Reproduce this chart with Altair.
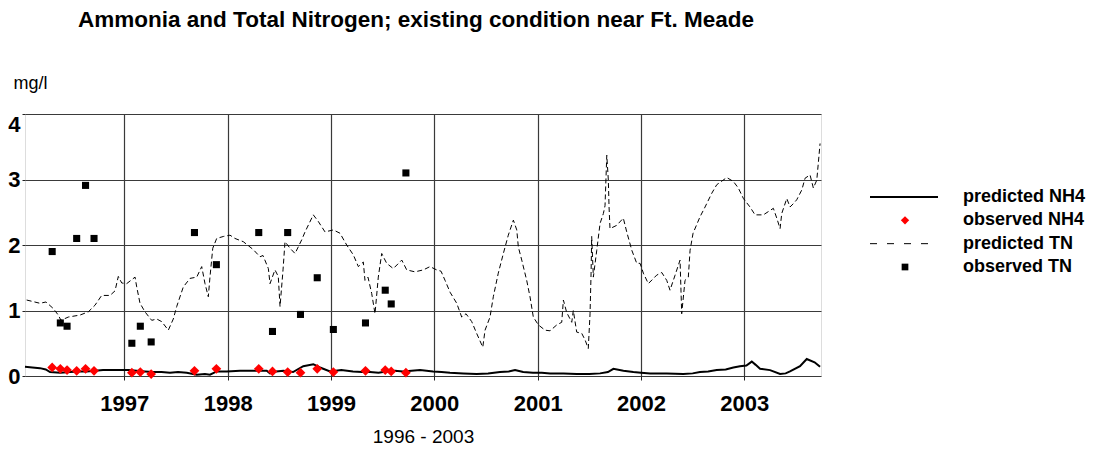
import altair as alt
import pandas as pd

# ---------------- data (decimal years, mg/l) ----------------
tn_pred_year = [1996.055, 1996.184, 1996.242, 1996.313, 1996.361, 1996.387, 1996.458, 1996.571,
                1996.652, 1996.716, 1996.781, 1996.862, 1996.910, 1996.942, 1996.975, 1997.023,
                1997.104, 1997.120, 1997.152, 1997.200, 1997.265, 1997.314, 1997.362, 1997.426,
                1997.474, 1997.507, 1997.571, 1997.636, 1997.701, 1997.749, 1997.781, 1997.813,
                1997.829, 1997.856, 1997.894, 1997.958, 1998.023, 1998.071, 1998.152, 1998.248,
                1998.313, 1998.342, 1998.394, 1998.410, 1998.458, 1998.490, 1998.507, 1998.536,
                1998.555, 1998.604, 1998.652, 1998.717, 1998.749, 1998.829, 1998.877, 1998.942,
                1999.023, 1999.087, 1999.152, 1999.216, 1999.265, 1999.313, 1999.329, 1999.358,
                1999.394, 1999.426, 1999.458, 1999.491, 1999.539, 1999.603, 1999.685, 1999.733,
                1999.813, 1999.894, 1999.958, 2000.023, 2000.065, 2000.104, 2000.152, 2000.217,
                2000.265, 2000.307, 2000.362, 2000.410, 2000.469, 2000.491, 2000.539, 2000.571,
                2000.619, 2000.668, 2000.716, 2000.765, 2000.798, 2000.813, 2000.846, 2000.894,
                2000.926, 2000.958, 2001.007, 2001.071, 2001.120, 2001.185, 2001.233, 2001.249,
                2001.281, 2001.330, 2001.345, 2001.378, 2001.427, 2001.459, 2001.490, 2001.507,
                2001.517, 2001.523, 2001.539, 2001.572, 2001.604, 2001.636, 2001.652, 2001.669,
                2001.684, 2001.691, 2001.700, 2001.765, 2001.829, 2001.862, 2001.911, 2001.959,
                2001.991, 2002.023, 2002.071, 2002.152, 2002.201, 2002.249, 2002.281, 2002.330,
                2002.378, 2002.394, 2002.426, 2002.458, 2002.475, 2002.504, 2002.571, 2002.620,
                2002.685, 2002.733, 2002.830, 2002.894, 2002.942, 2002.991, 2003.055, 2003.104,
                2003.184, 2003.281, 2003.314, 2003.346, 2003.362, 2003.411, 2003.442, 2003.474,
                2003.507, 2003.556, 2003.588, 2003.636, 2003.668, 2003.701, 2003.716, 2003.733]
tn_pred_value = [1.16, 1.11, 1.13, 1.03, 0.93, 0.85, 0.90, 0.93,
                 0.98, 1.08, 1.23, 1.23, 1.30, 1.52, 1.42, 1.41,
                 1.51, 1.36, 1.11, 0.98, 0.85, 0.87, 0.83, 0.70,
                 0.87, 1.06, 1.36, 1.49, 1.51, 1.67, 1.41, 1.21,
                 1.51, 1.95, 2.10, 2.13, 2.15, 2.10, 2.05, 1.93,
                 1.82, 1.84, 1.64, 1.41, 1.62, 1.52, 1.06, 1.62,
                 2.05, 1.95, 1.87, 2.08, 2.20, 2.46, 2.36, 2.20,
                 2.23, 2.18, 2.00, 1.85, 1.67, 1.74, 1.46, 1.51,
                 1.26, 0.95, 1.51, 1.87, 1.72, 1.64, 1.77, 1.62,
                 1.59, 1.62, 1.67, 1.62, 1.60, 1.46, 1.28, 1.11,
                 0.90, 0.95, 0.83, 0.65, 0.44, 0.70, 0.90, 1.21,
                 1.57, 1.87, 2.15, 2.38, 2.23, 1.97, 1.77, 1.46,
                 1.21, 0.90, 0.78, 0.70, 0.69, 0.78, 0.82, 1.16,
                 0.97, 0.82, 1.00, 0.67, 0.65, 0.55, 0.42, 0.95,
                 1.57, 2.13, 1.51, 1.92, 2.33, 2.48, 2.60, 3.37,
                 2.99, 2.58, 2.25, 2.30, 2.41, 2.20, 1.92, 1.72,
                 1.72, 1.57, 1.41, 1.54, 1.58, 1.46, 1.31, 1.54,
                 1.77, 0.95, 1.46, 1.51, 1.92, 2.18, 2.43, 2.58,
                 2.79, 2.92, 3.03, 2.97, 2.87, 2.71, 2.58, 2.46,
                 2.46, 2.56, 2.41, 2.25, 2.48, 2.71, 2.58, 2.63,
                 2.69, 2.84, 3.02, 3.07, 2.87, 2.99, 3.25, 3.55]

nh4_pred_year = [1996.039, 1996.110, 1996.184, 1996.240, 1996.281, 1996.380, 1996.474, 1996.560,
                 1996.636, 1996.720, 1996.794, 1996.880, 1996.958, 1997.040, 1997.120, 1997.200,
                 1997.278, 1997.360, 1997.442, 1997.520, 1997.604, 1997.701, 1997.780, 1997.829,
                 1997.894, 1997.991, 1998.120, 1998.248, 1998.378, 1998.410, 1998.470, 1998.539,
                 1998.633, 1998.732, 1998.829, 1998.894, 1998.991, 1999.100, 1999.213, 1999.300,
                 1999.378, 1999.460, 1999.533, 1999.620, 1999.697, 1999.780, 1999.862, 1999.988,
                 2000.070, 2000.152, 2000.280, 2000.410, 2000.520, 2000.636, 2000.720, 2000.781,
                 2000.860, 2000.955, 2001.040, 2001.120, 2001.250, 2001.378, 2001.500, 2001.604,
                 2001.680, 2001.733, 2001.830, 2001.926, 2002.000, 2002.088, 2002.250, 2002.410,
                 2002.500, 2002.571, 2002.650, 2002.733, 2002.820, 2002.894, 2002.958, 2003.020,
                 2003.072, 2003.110, 2003.152, 2003.249, 2003.346, 2003.400, 2003.442, 2003.539,
                 2003.604, 2003.680, 2003.733]
nh4_pred_value = [0.14, 0.13, 0.12, 0.10, 0.06, 0.05, 0.06, 0.07,
                  0.07, 0.08, 0.09, 0.09, 0.09, 0.09, 0.08, 0.07,
                  0.06, 0.06, 0.05, 0.06, 0.05, 0.02, 0.03, 0.02,
                  0.07, 0.07, 0.08, 0.08, 0.08, 0.04, 0.07, 0.08,
                  0.06, 0.15, 0.18, 0.13, 0.07, 0.09, 0.07, 0.06,
                  0.06, 0.05, 0.07, 0.08, 0.07, 0.08, 0.09, 0.07,
                  0.06, 0.05, 0.04, 0.03, 0.04, 0.06, 0.07, 0.09,
                  0.06, 0.05, 0.05, 0.04, 0.04, 0.03, 0.03, 0.04,
                  0.06, 0.11, 0.08, 0.06, 0.05, 0.04, 0.04, 0.03,
                  0.04, 0.06, 0.07, 0.09, 0.10, 0.13, 0.15, 0.16,
                  0.22, 0.17, 0.11, 0.09, 0.03, 0.04, 0.07, 0.15,
                  0.26, 0.21, 0.14]

obs_year = [1996.302, 1996.381, 1996.446, 1996.539, 1996.625, 1996.707, 1997.073, 1997.155,
            1997.260, 1997.679, 1997.891, 1998.301, 1998.434, 1998.581, 1998.705, 1998.867,
            1999.023, 1999.334, 1999.525, 1999.583, 1999.725]
obs_nh4 = [0.13, 0.11, 0.09, 0.08, 0.11, 0.08, 0.05, 0.06,
           0.03, 0.08, 0.11, 0.11, 0.07, 0.06, 0.05, 0.11,
           0.06, 0.08, 0.09, 0.07, 0.05]
obs_tn = [1.90, 0.81, 0.76, 2.10, 2.91, 2.10, 0.50, 0.76,
          0.52, 2.19, 1.70, 2.19, 0.68, 2.19, 0.94, 1.50,
          0.71, 0.81, 1.31, 1.10, 3.10]

year_ticks = [1997, 1998, 1999, 2000, 2001, 2002, 2003]
y_ticks = [0, 0.5, 1, 1.5, 2, 2.5, 3, 3.5, 4]
legend_labels = ["predicted NH4", "observed NH4", "predicted TN", "observed TN"]

FONT = "Liberation Sans"

df_tn = pd.DataFrame({"year": tn_pred_year, "value": tn_pred_value})
df_nh4 = pd.DataFrame({"year": nh4_pred_year, "value": nh4_pred_value})
df_onh4 = pd.DataFrame({"year": obs_year, "value": obs_nh4})
df_otn = pd.DataFrame({"year": obs_year, "value": obs_tn})
df_leg = pd.DataFrame({"label": legend_labels})

x_enc = alt.X(
    "year:Q",
    scale=alt.Scale(domain=[1996.039, 2003.742], nice=False, zero=False),
    axis=alt.Axis(
        values=year_ticks, format="d", grid=True, gridColor="#3a3a3a", gridWidth=1.2,
        tickColor="#222", tickSize=4, labelPadding=13, labelFont=FONT, labelFontSize=22,
        labelFontWeight="bold", labelColor="black", domain=False,
        title="1996 - 2003", titleFont=FONT, titleFontSize=19, titleFontWeight="normal",
        titleColor="black", titleX=398, titleY=66, titleAlign="center",
        titleBaseline="alphabetic",
    ),
)
y_enc = alt.Y(
    "value:Q",
    scale=alt.Scale(domain=[0, 4], nice=False, zero=True),
    axis=alt.Axis(
        values=y_ticks, format="d",
        labelExpr="datum.value % 1 === 0 ? datum.label : ''",
        grid=True, gridColor="#3a3a3a", gridWidth=1.2,
        gridOpacity={"condition": {"test": "datum.value % 1 !== 0", "value": 0}, "value": 1},
        labelBaseline={"condition": {"test": "datum.value === 4", "value": "top"}, "value": "middle"},
        tickColor="#222", tickSize=3, labelPadding=2, labelFont=FONT, labelFontSize=22,
        labelFontWeight="bold", labelColor="black", domain=False,
        title="mg/l", titleAngle=0, titleFont=FONT, titleFontSize=18, titleFontWeight="normal",
        titleColor="black", titleX=5, titleY=-26, titleAlign="center", titleBaseline="alphabetic",
    ),
)

tn_line = alt.Chart(df_tn).mark_line(color="black", strokeWidth=1, strokeDash=[5, 3]).encode(x=x_enc, y=y_enc)
nh4_line = alt.Chart(df_nh4).mark_line(color="black", strokeWidth=2).encode(x=x_enc, y=y_enc)
nh4_pts = alt.Chart(df_onh4).mark_point(shape="diamond", filled=True, color="red", size=95, opacity=1).encode(x=x_enc, y=y_enc)
tn_pts = alt.Chart(df_otn).mark_point(shape="square", filled=True, color="black", size=50, opacity=1).encode(x=x_enc, y=y_enc)

main = alt.layer(tn_line, nh4_line, nh4_pts, tn_pts)

ly = alt.Y("label:N", sort=legend_labels,
           scale=alt.Scale(type="point", domain=legend_labels, range=[83, 153], padding=0),
           axis=None)
leg_base = alt.Chart(df_leg)
leg_r1 = leg_base.mark_rule(color="black", strokeWidth=2).encode(
    x=alt.value(845), x2=alt.value(913), y=ly).transform_filter(alt.datum.label == "predicted NH4")
leg_r2 = leg_base.mark_rule(color="black", strokeWidth=1, strokeDash=[7, 10]).encode(
    x=alt.value(845), x2=alt.value(913), y=ly).transform_filter(alt.datum.label == "predicted TN")
leg_p1 = leg_base.mark_point(shape="diamond", filled=True, color="red", size=70, opacity=1).encode(
    x=alt.value(880), y=ly).transform_filter(alt.datum.label == "observed NH4")
leg_p2 = leg_base.mark_point(shape="square", filled=True, color="black", size=45, opacity=1).encode(
    x=alt.value(880), y=ly).transform_filter(alt.datum.label == "observed TN")
leg_txt = leg_base.mark_text(align="left", baseline="middle", font=FONT, fontSize=18,
                             fontWeight="bold", color="black").encode(
    x=alt.value(938), y=ly, text="label:N")
legend = alt.layer(leg_r1, leg_r2, leg_p1, leg_p2, leg_txt)

chart = alt.layer(main, legend).resolve_scale(y="independent").properties(
    width=796,
    height=262,
    autosize=alt.AutoSizeParams(type="none"),
    padding={"left": 17, "top": 106, "right": 268, "bottom": 72},
    title=alt.TitleParams(
        "Ammonia and Total Nitrogen; existing condition near Ft. Meade",
        font=FONT, fontSize=22.5, fontWeight="bold", color="black",
        anchor="middle", frame="group", offset=25, baseline="alphabetic", dx=-7,
    ),
).configure_view(stroke="black", strokeWidth=1).configure(background="white")

chart.save("out.html", embed_options={"renderer": "svg", "actions": False})
